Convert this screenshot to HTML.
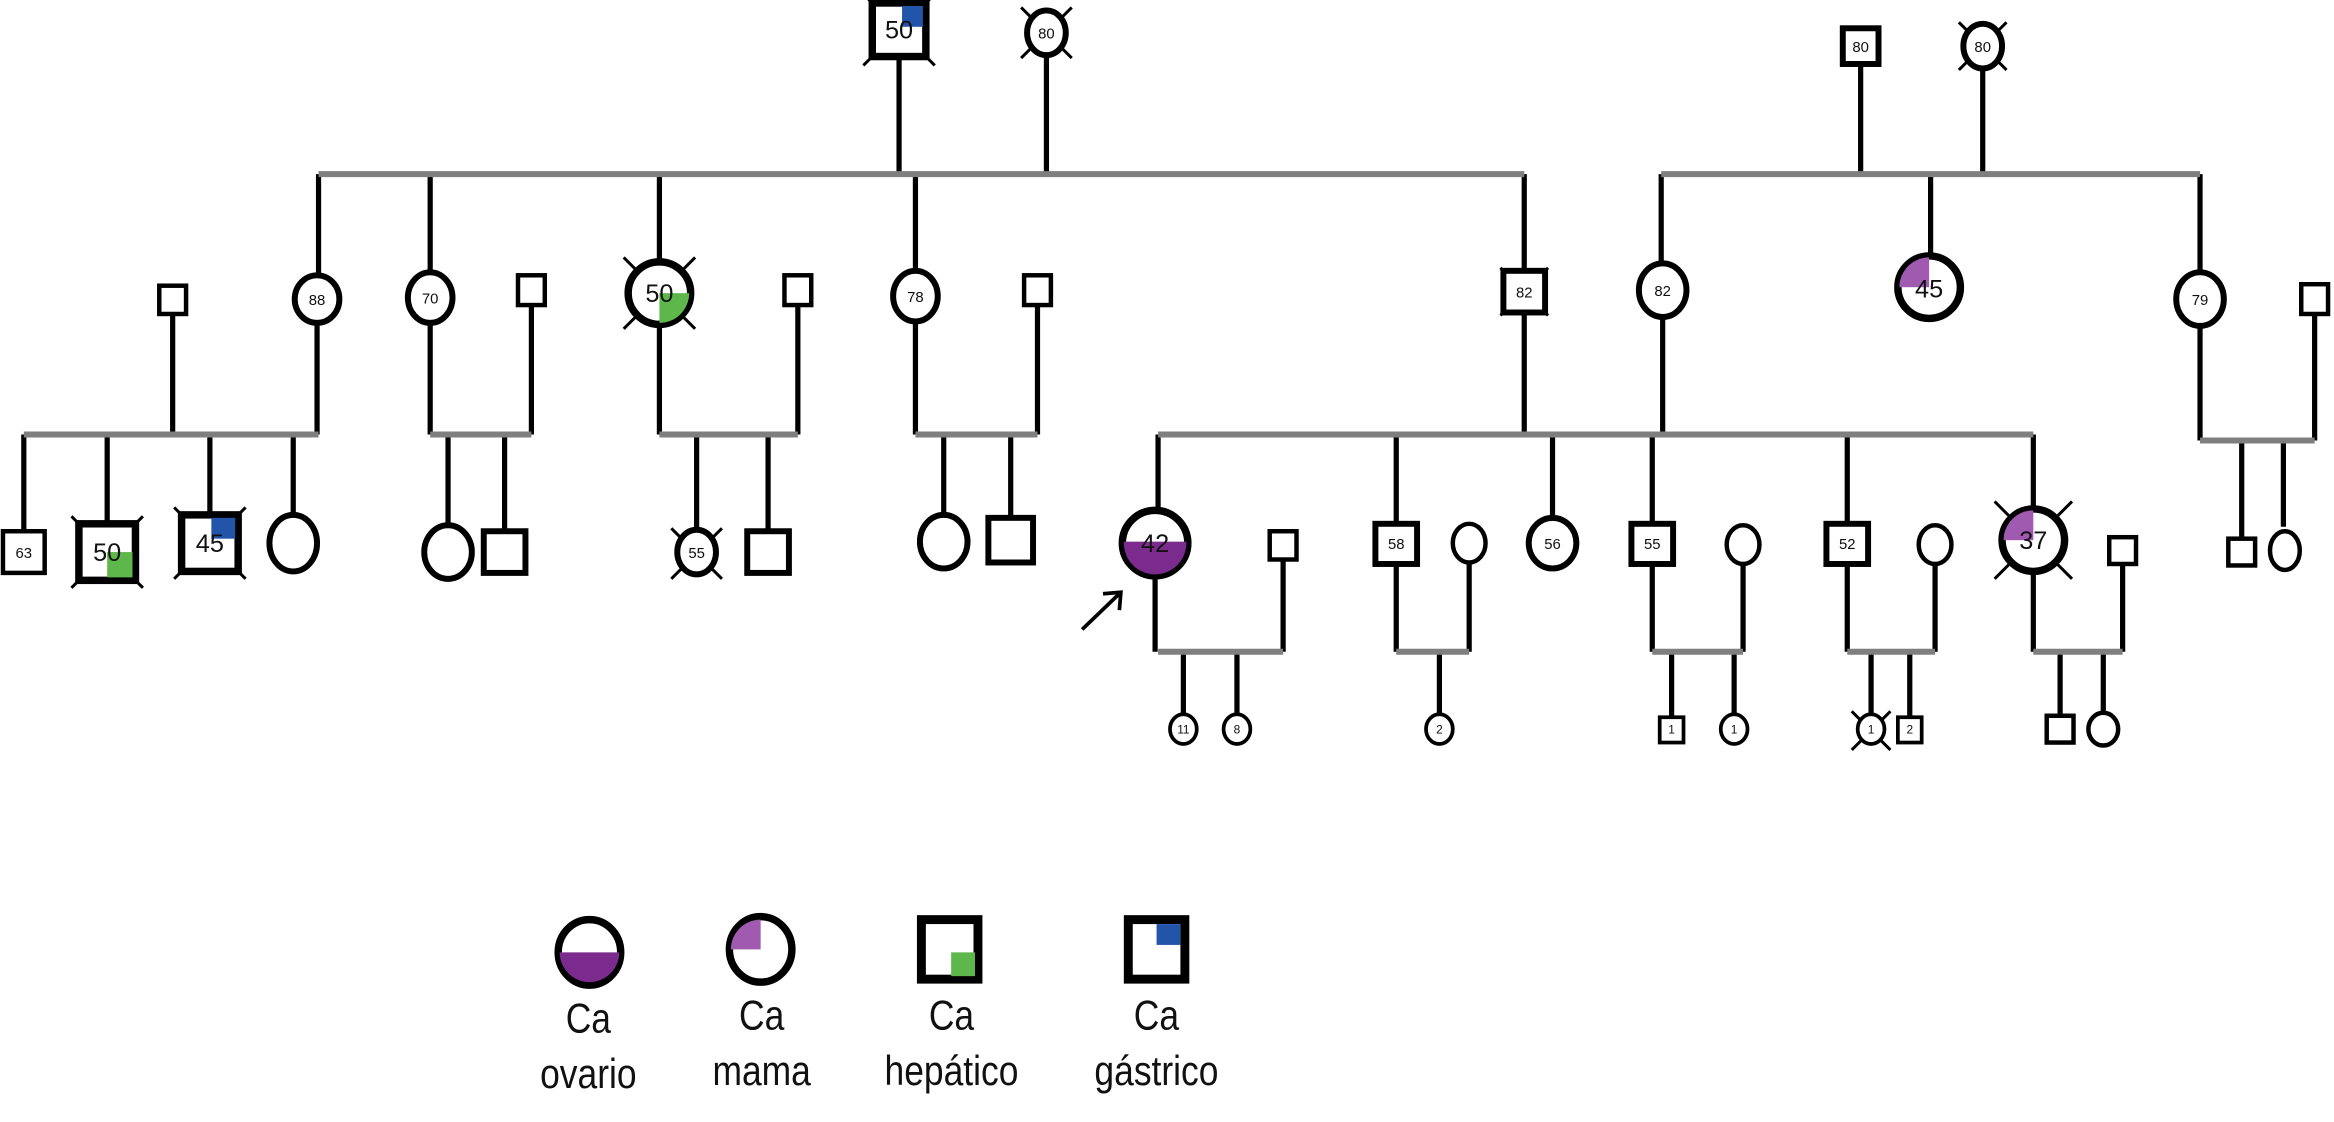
<!DOCTYPE html>
<html><head><meta charset="utf-8"><style>
html,body{margin:0;padding:0;background:#fff}
svg{display:block}
text{font-family:"Liberation Sans",Arial,sans-serif;text-anchor:middle;fill:#111}
</style></head><body>
<svg width="2334" height="1122" viewBox="0 0 1568 754" preserveAspectRatio="none" xmlns="http://www.w3.org/2000/svg">
<defs><clipPath id="c42"><circle cx="776" cy="365" r="21"/></clipPath>
<clipPath id="c45"><circle cx="1296" cy="193" r="20"/></clipPath>
<clipPath id="c37"><circle cx="1366" cy="363" r="20"/></clipPath>
<clipPath id="c50"><circle cx="443" cy="197" r="20"/></clipPath>
<clipPath id="cl1"><circle cx="396" cy="640" r="20"/></clipPath>
<clipPath id="cl2"><circle cx="511" cy="638" r="20"/></clipPath></defs>
<g stroke="#000" stroke-width="3.5">
<path d="M604 40V117M703 37V117M214 117V186M289 117V182M443 117V175M615 117V184M1024 117V181M116 211V292M357 205V292M536 205V292M697 205V292M213 216V292M289 218V292M443 219V292M615 214V292M16 292V356M72 292V351M141 292V345M197 292V345M301 292V354M339 292V356M468 292V356M516 292V356M634 292V347M679 292V348M1250 44V117M1332 46V117M1116 117V177M1297 117V171M1478 117V183M1024 211V292M1117 213V292M1478 219V296M1555 211V296M1506 296V361M1534 296V354M778 292V342M938 292V351M1043 292V348M1110 292V351M1241 292V351M1366 292V341M776 388V438M862 376V438M795 438V480M831 438V480M938 379V438M987 377V438M967 438V480M1110 379V438M1171 378V438M1123 438V482M1165 438V480M1241 379V438M1300 378V438M1257 438V480M1283 438V482M1366 385V438M1426 379V438M1384 438V481M1413 438V480"/>
</g>
<g stroke="#7f7f7f" stroke-width="4">
<path d="M214 117H1024M1116 117H1478M16 292H214M289 292H357M443 292H536M615 292H697M778 292H1366M1478 296H1555M778 438H862M938 438H987M1110 438H1171M1241 438H1300M1366 438H1426"/>
</g>
<!-- deceased X marks -->
<g stroke="#000" stroke-width="2">
<path d="M580 -4L628 44M628 -4L580 44"/>
<path d="M686 5L720 39M720 5L686 39"/>
<path d="M1316 15L1348 47M1348 15L1316 47"/>
<path d="M419 173L467 221M467 173L419 221"/>
<path d="M1008 180L1040 212M1040 180L1008 212"/>
<path d="M48 347L96 395M96 347L48 395"/>
<path d="M117 341L165 389M165 341L117 389"/>
<path d="M451 355L485 389M485 355L451 389"/>
<path d="M1340 337L1392 389M1392 337L1340 389"/>
<path d="M1244 478L1270 504M1270 478L1244 504"/>
</g>
<g stroke="#000" fill="#fff">
<!-- top -->
<rect x="586" y="2" width="36" height="36" stroke-width="5"/>
<rect x="606" y="4" width="14" height="14" fill="#2255aa" stroke="none"/>
<ellipse cx="703" cy="22" rx="13" ry="15" stroke-width="4"/>
<rect x="1238" y="19" width="24" height="24" stroke-width="4"/>
<ellipse cx="1332" cy="31" rx="13" ry="15" stroke-width="4"/>
<!-- gen2 -->
<rect x="107" y="192" width="18" height="19" stroke-width="3"/>
<ellipse cx="213" cy="201" rx="15" ry="16" stroke-width="4"/>
<ellipse cx="289" cy="200" rx="15" ry="17" stroke-width="4"/>
<rect x="348" y="185" width="18" height="20" stroke-width="3"/>
<circle cx="443" cy="197" r="21" stroke-width="5"/>
<rect x="443" y="197" width="22" height="22" fill="#5db74a" stroke="none" clip-path="url(#c50)"/>
<rect x="527" y="185" width="18" height="20" stroke-width="3"/>
<ellipse cx="615" cy="199" rx="15" ry="17" stroke-width="4"/>
<rect x="688" y="185" width="18" height="20" stroke-width="3"/>
<rect x="1010" y="182" width="28" height="28" stroke-width="4"/>
<ellipse cx="1117" cy="195" rx="16" ry="18" stroke-width="4"/>
<circle cx="1296" cy="193" r="21" stroke-width="5"/>
<rect x="1276" y="173" width="20" height="20" fill="#a05bb0" stroke="none" clip-path="url(#c45)"/>
<ellipse cx="1478" cy="201" rx="16" ry="18" stroke-width="4"/>
<rect x="1546" y="191" width="18" height="20" stroke-width="3"/>
<!-- gen3 left -->
<rect x="2" y="357" width="28" height="28" stroke-width="3"/>
<rect x="53" y="352" width="38" height="38" stroke-width="5"/>
<rect x="72" y="371" width="17" height="17" fill="#5db74a" stroke="none"/>
<rect x="122" y="346" width="38" height="38" stroke-width="5"/>
<rect x="142" y="348" width="16" height="14" fill="#2255aa" stroke="none"/>
<ellipse cx="197" cy="365" rx="16" ry="19" stroke-width="4"/>
<ellipse cx="301" cy="371" rx="16" ry="18" stroke-width="4"/>
<rect x="325" y="357" width="28" height="28" stroke-width="4"/>
<ellipse cx="468" cy="371" rx="13" ry="15" stroke-width="4"/>
<rect x="502" y="357" width="28" height="28" stroke-width="4"/>
<ellipse cx="634" cy="364" rx="16" ry="18" stroke-width="4"/>
<rect x="664" y="348" width="30" height="30" stroke-width="4"/>
<!-- gen3 main -->
<circle cx="776" cy="365" r="22" stroke-width="5"/>
<rect x="754" y="364" width="44" height="24" fill="#7b2a8e" stroke="none" clip-path="url(#c42)"/>
<rect x="853" y="357" width="18" height="19" stroke-width="3"/>
<rect x="924" y="352" width="28" height="27" stroke-width="4"/>
<ellipse cx="987" cy="365" rx="11" ry="13" stroke-width="3"/>
<ellipse cx="1043" cy="365" rx="16" ry="17" stroke-width="4"/>
<rect x="1096" y="352" width="28" height="27" stroke-width="4"/>
<ellipse cx="1171" cy="366" rx="11" ry="13" stroke-width="3"/>
<rect x="1227" y="352" width="28" height="27" stroke-width="4"/>
<ellipse cx="1300" cy="366" rx="11" ry="13" stroke-width="3"/>
<circle cx="1366" cy="363" r="21" stroke-width="5"/>
<rect x="1346" y="343" width="20" height="20" fill="#a05bb0" stroke="none" clip-path="url(#c37)"/>
<rect x="1417" y="361" width="18" height="18" stroke-width="3"/>
<rect x="1497" y="362" width="18" height="18" stroke-width="3"/>
<ellipse cx="1535" cy="370" rx="10" ry="13" stroke-width="3"/>
<!-- gen4 -->
<ellipse cx="795" cy="490" rx="9" ry="10" stroke-width="2.5"/>
<ellipse cx="831" cy="490" rx="9" ry="10" stroke-width="2.5"/>
<ellipse cx="967" cy="490" rx="9" ry="10" stroke-width="2.5"/>
<rect x="1115" y="482" width="16" height="17" stroke-width="2.5"/>
<ellipse cx="1165" cy="490" rx="9" ry="10" stroke-width="2.5"/>
<ellipse cx="1257" cy="490" rx="9" ry="10" stroke-width="2.5"/>
<rect x="1275" y="482" width="16" height="17" stroke-width="2.5"/>
<rect x="1375" y="481" width="18" height="18" stroke-width="3"/>
<ellipse cx="1413" cy="490" rx="10" ry="11" stroke-width="3"/>
<!-- legend -->
<ellipse cx="396" cy="640" rx="21" ry="22" stroke-width="5"/>
<rect x="374" y="640" width="44" height="24" fill="#7b2a8e" stroke="none" clip-path="url(#cl1)"/>
<ellipse cx="511" cy="638" rx="21" ry="22" stroke-width="5"/>
<rect x="490" y="616" width="21" height="22" fill="#a05bb0" stroke="none" clip-path="url(#cl2)"/>
<rect x="619" y="618" width="38" height="40" stroke-width="6"/>
<rect x="639" y="640" width="16" height="16" fill="#5db74a" stroke="none"/>
<rect x="758" y="618" width="38" height="40" stroke-width="6"/>
<rect x="777" y="621" width="16" height="14" fill="#2255aa" stroke="none"/>
</g>
<!-- arrow -->
<g stroke="#000" stroke-width="2.5" fill="none"><path d="M727 423L753 398M741 399L753 398L752 410"/></g>
<!-- labels -->
<g font-size="17"><text x="604" y="26">50</text><text x="443" y="203">50</text><text x="72" y="377">50</text><text x="141" y="371">45</text><text x="776" y="371">42</text><text x="1296" y="200">45</text><text x="1366" y="369">37</text></g>
<g font-size="10"><text x="703" y="26">80</text><text x="1250" y="35">80</text><text x="1332" y="35">80</text><text x="213" y="205">88</text><text x="289" y="204">70</text><text x="615" y="203">78</text><text x="1024" y="200">82</text><text x="1117" y="199">82</text><text x="1478" y="205">79</text><text x="16" y="375">63</text><text x="468" y="375">55</text><text x="938" y="369">58</text><text x="1043" y="369">56</text><text x="1110" y="369">55</text><text x="1241" y="369">52</text></g>
<g font-size="8"><text x="795" y="493">11</text><text x="831" y="493">8</text><text x="967" y="493">2</text><text x="1123" y="493">1</text><text x="1165" y="493">1</text><text x="1257" y="493">1</text><text x="1283" y="493">2</text></g>
<g font-size="28" transform="scale(0.85 1)">
<text x="465" y="694">Ca</text><text x="465" y="731">ovario</text>
<text x="602" y="692">Ca</text><text x="602" y="729">mama</text>
<text x="752" y="692">Ca</text><text x="752" y="729">hepático</text>
<text x="914" y="692">Ca</text><text x="914" y="729">gástrico</text>
</g>
</svg>
</body></html>
